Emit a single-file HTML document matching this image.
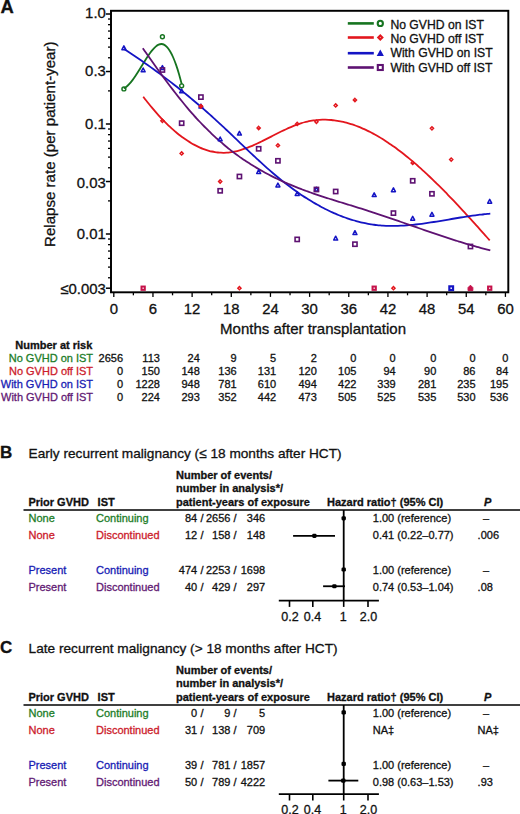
<!DOCTYPE html>
<html><head><meta charset="utf-8"><style>
html,body{margin:0;padding:0;background:#fff;width:520px;height:814px;overflow:hidden;}
body{position:relative;font-family:"Liberation Sans", sans-serif;}
</style></head><body>
<svg width="520" height="814" viewBox="0 0 520 814" style="position:absolute;left:0;top:0" font-family='"Liberation Sans", sans-serif'>
<text x="0.60" y="12.90" font-size="18.4" font-weight="700" fill="#111" stroke="#111" stroke-width="0.3">A</text>
<rect x="111.0" y="10.8" width="397.30" height="281.50" fill="none" stroke="#000" stroke-width="1.95"/>
<line x1="105.90" y1="14.00" x2="111.00" y2="14.00" stroke="#000" stroke-width="1.5" stroke-linecap="butt"/>
<text x="105.80" y="17.90" font-size="14.9" text-anchor="end" fill="#111" stroke="#111" stroke-width="0.3">1.0</text>
<line x1="105.90" y1="71.52" x2="111.00" y2="71.52" stroke="#000" stroke-width="1.5" stroke-linecap="butt"/>
<text x="105.80" y="75.60" font-size="14.9" text-anchor="end" fill="#111" stroke="#111" stroke-width="0.3">0.3</text>
<line x1="105.90" y1="124.00" x2="111.00" y2="124.00" stroke="#000" stroke-width="1.5" stroke-linecap="butt"/>
<text x="105.80" y="128.70" font-size="14.9" text-anchor="end" fill="#111" stroke="#111" stroke-width="0.3">0.1</text>
<line x1="105.90" y1="181.52" x2="111.00" y2="181.52" stroke="#000" stroke-width="1.5" stroke-linecap="butt"/>
<text x="105.80" y="187.50" font-size="14.9" text-anchor="end" fill="#111" stroke="#111" stroke-width="0.3">0.03</text>
<line x1="105.90" y1="234.00" x2="111.00" y2="234.00" stroke="#000" stroke-width="1.5" stroke-linecap="butt"/>
<text x="105.80" y="239.30" font-size="14.9" text-anchor="end" fill="#111" stroke="#111" stroke-width="0.3">0.01</text>
<line x1="105.90" y1="288.20" x2="111.00" y2="288.20" stroke="#000" stroke-width="1.5" stroke-linecap="butt"/>
<text x="105.80" y="293.60" font-size="14.9" text-anchor="end" fill="#111" stroke="#111" stroke-width="0.3">≤0.003</text>
<line x1="108.00" y1="90.89" x2="111.00" y2="90.89" stroke="#000" stroke-width="1.3" stroke-linecap="butt"/>
<line x1="108.00" y1="57.77" x2="111.00" y2="57.77" stroke="#000" stroke-width="1.3" stroke-linecap="butt"/>
<line x1="108.00" y1="47.11" x2="111.00" y2="47.11" stroke="#000" stroke-width="1.3" stroke-linecap="butt"/>
<line x1="108.00" y1="38.40" x2="111.00" y2="38.40" stroke="#000" stroke-width="1.3" stroke-linecap="butt"/>
<line x1="108.00" y1="31.04" x2="111.00" y2="31.04" stroke="#000" stroke-width="1.3" stroke-linecap="butt"/>
<line x1="108.00" y1="24.66" x2="111.00" y2="24.66" stroke="#000" stroke-width="1.3" stroke-linecap="butt"/>
<line x1="108.00" y1="19.03" x2="111.00" y2="19.03" stroke="#000" stroke-width="1.3" stroke-linecap="butt"/>
<line x1="108.00" y1="200.89" x2="111.00" y2="200.89" stroke="#000" stroke-width="1.3" stroke-linecap="butt"/>
<line x1="108.00" y1="167.77" x2="111.00" y2="167.77" stroke="#000" stroke-width="1.3" stroke-linecap="butt"/>
<line x1="108.00" y1="157.11" x2="111.00" y2="157.11" stroke="#000" stroke-width="1.3" stroke-linecap="butt"/>
<line x1="108.00" y1="148.40" x2="111.00" y2="148.40" stroke="#000" stroke-width="1.3" stroke-linecap="butt"/>
<line x1="108.00" y1="141.04" x2="111.00" y2="141.04" stroke="#000" stroke-width="1.3" stroke-linecap="butt"/>
<line x1="108.00" y1="134.66" x2="111.00" y2="134.66" stroke="#000" stroke-width="1.3" stroke-linecap="butt"/>
<line x1="108.00" y1="129.03" x2="111.00" y2="129.03" stroke="#000" stroke-width="1.3" stroke-linecap="butt"/>
<line x1="108.00" y1="277.77" x2="111.00" y2="277.77" stroke="#000" stroke-width="1.3" stroke-linecap="butt"/>
<line x1="108.00" y1="267.11" x2="111.00" y2="267.11" stroke="#000" stroke-width="1.3" stroke-linecap="butt"/>
<line x1="108.00" y1="258.40" x2="111.00" y2="258.40" stroke="#000" stroke-width="1.3" stroke-linecap="butt"/>
<line x1="108.00" y1="251.04" x2="111.00" y2="251.04" stroke="#000" stroke-width="1.3" stroke-linecap="butt"/>
<line x1="108.00" y1="244.66" x2="111.00" y2="244.66" stroke="#000" stroke-width="1.3" stroke-linecap="butt"/>
<line x1="108.00" y1="239.03" x2="111.00" y2="239.03" stroke="#000" stroke-width="1.3" stroke-linecap="butt"/>
<line x1="113.80" y1="292.30" x2="113.80" y2="296.90" stroke="#000" stroke-width="1.3" stroke-linecap="butt"/>
<line x1="133.38" y1="292.30" x2="133.38" y2="295.30" stroke="#000" stroke-width="1.3" stroke-linecap="butt"/>
<line x1="152.96" y1="292.30" x2="152.96" y2="296.90" stroke="#000" stroke-width="1.3" stroke-linecap="butt"/>
<line x1="172.54" y1="292.30" x2="172.54" y2="295.30" stroke="#000" stroke-width="1.3" stroke-linecap="butt"/>
<line x1="192.12" y1="292.30" x2="192.12" y2="296.90" stroke="#000" stroke-width="1.3" stroke-linecap="butt"/>
<line x1="211.70" y1="292.30" x2="211.70" y2="295.30" stroke="#000" stroke-width="1.3" stroke-linecap="butt"/>
<line x1="231.29" y1="292.30" x2="231.29" y2="296.90" stroke="#000" stroke-width="1.3" stroke-linecap="butt"/>
<line x1="250.87" y1="292.30" x2="250.87" y2="295.30" stroke="#000" stroke-width="1.3" stroke-linecap="butt"/>
<line x1="270.45" y1="292.30" x2="270.45" y2="296.90" stroke="#000" stroke-width="1.3" stroke-linecap="butt"/>
<line x1="290.03" y1="292.30" x2="290.03" y2="295.30" stroke="#000" stroke-width="1.3" stroke-linecap="butt"/>
<line x1="309.61" y1="292.30" x2="309.61" y2="296.90" stroke="#000" stroke-width="1.3" stroke-linecap="butt"/>
<line x1="329.19" y1="292.30" x2="329.19" y2="295.30" stroke="#000" stroke-width="1.3" stroke-linecap="butt"/>
<line x1="348.77" y1="292.30" x2="348.77" y2="296.90" stroke="#000" stroke-width="1.3" stroke-linecap="butt"/>
<line x1="368.35" y1="292.30" x2="368.35" y2="295.30" stroke="#000" stroke-width="1.3" stroke-linecap="butt"/>
<line x1="387.93" y1="292.30" x2="387.93" y2="296.90" stroke="#000" stroke-width="1.3" stroke-linecap="butt"/>
<line x1="407.52" y1="292.30" x2="407.52" y2="295.30" stroke="#000" stroke-width="1.3" stroke-linecap="butt"/>
<line x1="427.10" y1="292.30" x2="427.10" y2="296.90" stroke="#000" stroke-width="1.3" stroke-linecap="butt"/>
<line x1="446.68" y1="292.30" x2="446.68" y2="295.30" stroke="#000" stroke-width="1.3" stroke-linecap="butt"/>
<line x1="466.26" y1="292.30" x2="466.26" y2="296.90" stroke="#000" stroke-width="1.3" stroke-linecap="butt"/>
<line x1="485.84" y1="292.30" x2="485.84" y2="295.30" stroke="#000" stroke-width="1.3" stroke-linecap="butt"/>
<line x1="505.42" y1="292.30" x2="505.42" y2="296.90" stroke="#000" stroke-width="1.3" stroke-linecap="butt"/>
<text x="113.80" y="313.80" font-size="14.9" text-anchor="middle" fill="#111" stroke="#111" stroke-width="0.3">0</text>
<text x="152.96" y="313.80" font-size="14.9" text-anchor="middle" fill="#111" stroke="#111" stroke-width="0.3">6</text>
<text x="192.12" y="313.80" font-size="14.9" text-anchor="middle" fill="#111" stroke="#111" stroke-width="0.3">12</text>
<text x="231.29" y="313.80" font-size="14.9" text-anchor="middle" fill="#111" stroke="#111" stroke-width="0.3">18</text>
<text x="270.45" y="313.80" font-size="14.9" text-anchor="middle" fill="#111" stroke="#111" stroke-width="0.3">24</text>
<text x="309.61" y="313.80" font-size="14.9" text-anchor="middle" fill="#111" stroke="#111" stroke-width="0.3">30</text>
<text x="348.77" y="313.80" font-size="14.9" text-anchor="middle" fill="#111" stroke="#111" stroke-width="0.3">36</text>
<text x="387.93" y="313.80" font-size="14.9" text-anchor="middle" fill="#111" stroke="#111" stroke-width="0.3">42</text>
<text x="427.10" y="313.80" font-size="14.9" text-anchor="middle" fill="#111" stroke="#111" stroke-width="0.3">48</text>
<text x="466.26" y="313.80" font-size="14.9" text-anchor="middle" fill="#111" stroke="#111" stroke-width="0.3">54</text>
<text x="505.42" y="313.80" font-size="14.9" text-anchor="middle" fill="#111" stroke="#111" stroke-width="0.3">60</text>
<text x="220.10" y="333.80" font-size="15" fill="#111" stroke="#111" stroke-width="0.3">Months after transplantation</text>
<text transform="translate(55.3,247.0) rotate(-90)" font-size="15.1" fill="#111" stroke="#111" stroke-width="0.3">Relapse rate (per patient-year)</text>
<path d="M123.80,88.41 C124.28,88.09 125.73,87.28 126.70,86.49 C127.67,85.70 128.63,84.73 129.60,83.66 C130.57,82.60 131.53,81.38 132.50,80.10 C133.47,78.83 134.43,77.42 135.40,75.99 C136.37,74.55 137.33,73.03 138.30,71.50 C139.27,69.97 140.23,68.37 141.20,66.80 C142.17,65.24 143.13,63.64 144.10,62.09 C145.07,60.55 146.03,59.00 147.00,57.54 C147.97,56.08 148.93,54.64 149.90,53.32 C150.87,52.00 151.83,50.73 152.80,49.61 C153.77,48.50 154.73,47.45 155.70,46.63 C156.67,45.80 157.63,45.09 158.60,44.65 C159.57,44.22 160.53,43.96 161.50,44.00 C162.47,44.04 163.43,44.34 164.40,44.90 C165.37,45.47 166.33,46.30 167.30,47.40 C168.27,48.51 169.23,49.87 170.20,51.51 C171.17,53.16 172.13,55.06 173.10,57.25 C174.07,59.43 175.03,61.89 176.00,64.62 C176.97,67.36 177.93,70.36 178.90,73.65 C179.87,76.94 181.32,82.56 181.80,84.34" fill="none" stroke="#167420" stroke-width="1.8" stroke-linejoin="round"/>
<path d="M143.20,96.68 C143.70,97.32 145.19,99.28 146.19,100.54 C147.18,101.81 148.18,103.06 149.17,104.29 C150.17,105.52 151.17,106.72 152.16,107.91 C153.16,109.10 154.15,110.26 155.15,111.41 C156.14,112.55 157.14,113.68 158.14,114.78 C159.13,115.88 160.13,116.96 161.12,118.02 C162.12,119.08 163.11,120.12 164.11,121.14 C165.11,122.15 166.10,123.15 167.10,124.12 C168.09,125.09 169.09,126.04 170.08,126.96 C171.08,127.89 172.07,128.79 173.07,129.67 C174.07,130.55 175.06,131.41 176.06,132.24 C177.05,133.08 178.05,133.89 179.04,134.67 C180.04,135.46 181.04,136.22 182.03,136.96 C183.03,137.70 184.02,138.41 185.02,139.10 C186.01,139.79 187.01,140.46 188.01,141.10 C189.00,141.74 190.00,142.35 190.99,142.94 C191.99,143.53 192.98,144.10 193.98,144.64 C194.98,145.18 195.97,145.69 196.97,146.18 C197.96,146.67 198.96,147.13 199.95,147.56 C200.95,148.00 201.95,148.41 202.94,148.79 C203.94,149.17 204.93,149.53 205.93,149.86 C206.92,150.19 207.92,150.49 208.92,150.76 C209.91,151.04 210.91,151.29 211.90,151.50 C212.90,151.72 213.89,151.92 214.89,152.08 C215.89,152.24 216.88,152.38 217.88,152.49 C218.87,152.59 219.87,152.67 220.86,152.72 C221.86,152.77 222.86,152.80 223.85,152.79 C224.85,152.78 225.84,152.74 226.84,152.68 C227.83,152.61 228.83,152.52 229.82,152.39 C230.82,152.27 231.82,152.12 232.81,151.94 C233.81,151.77 234.80,151.56 235.80,151.33 C236.79,151.11 237.79,150.86 238.79,150.59 C239.78,150.31 240.78,150.02 241.77,149.70 C242.77,149.39 243.76,149.06 244.76,148.71 C245.76,148.35 246.75,147.98 247.75,147.60 C248.74,147.21 249.74,146.81 250.73,146.40 C251.73,145.98 252.73,145.55 253.72,145.11 C254.72,144.67 255.71,144.22 256.71,143.76 C257.70,143.30 258.70,142.83 259.70,142.35 C260.69,141.87 261.69,141.38 262.68,140.89 C263.68,140.39 264.67,139.89 265.67,139.39 C266.67,138.89 267.66,138.38 268.66,137.87 C269.65,137.37 270.65,136.85 271.64,136.35 C272.64,135.84 273.64,135.32 274.63,134.82 C275.63,134.31 276.62,133.80 277.62,133.30 C278.61,132.80 279.61,132.30 280.61,131.81 C281.60,131.32 282.60,130.84 283.59,130.36 C284.59,129.89 285.58,129.42 286.58,128.96 C287.58,128.50 288.57,128.05 289.57,127.62 C290.56,127.18 291.56,126.76 292.55,126.35 C293.55,125.94 294.54,125.54 295.54,125.17 C296.54,124.79 297.53,124.42 298.53,124.08 C299.52,123.74 300.52,123.41 301.51,123.10 C302.51,122.80 303.51,122.51 304.50,122.25 C305.50,121.98 306.49,121.74 307.49,121.52 C308.48,121.30 309.48,121.10 310.48,120.91 C311.47,120.73 312.47,120.57 313.46,120.43 C314.46,120.29 315.45,120.17 316.45,120.07 C317.45,119.97 318.44,119.89 319.44,119.83 C320.43,119.77 321.43,119.73 322.42,119.70 C323.42,119.68 324.42,119.68 325.41,119.69 C326.41,119.71 327.40,119.74 328.40,119.80 C329.39,119.85 330.39,119.92 331.39,120.01 C332.38,120.10 333.38,120.21 334.37,120.34 C335.37,120.46 336.36,120.61 337.36,120.77 C338.36,120.93 339.35,121.11 340.35,121.31 C341.34,121.50 342.34,121.72 343.33,121.95 C344.33,122.18 345.32,122.42 346.32,122.69 C347.32,122.95 348.31,123.23 349.31,123.53 C350.30,123.83 351.30,124.14 352.29,124.47 C353.29,124.80 354.29,125.15 355.28,125.51 C356.28,125.87 357.27,126.25 358.27,126.64 C359.26,127.03 360.26,127.44 361.26,127.86 C362.25,128.28 363.25,128.72 364.24,129.17 C365.24,129.63 366.23,130.09 367.23,130.57 C368.23,131.06 369.22,131.55 370.22,132.06 C371.21,132.57 372.21,133.10 373.20,133.63 C374.20,134.17 375.20,134.72 376.19,135.29 C377.19,135.85 378.18,136.43 379.18,137.02 C380.17,137.61 381.17,138.22 382.17,138.84 C383.16,139.45 384.16,140.08 385.15,140.73 C386.15,141.37 387.14,142.02 388.14,142.69 C389.14,143.36 390.13,144.04 391.13,144.73 C392.12,145.42 393.12,146.12 394.11,146.84 C395.11,147.55 396.11,148.28 397.10,149.02 C398.10,149.76 399.09,150.50 400.09,151.26 C401.08,152.02 402.08,152.79 403.07,153.57 C404.07,154.36 405.07,155.15 406.06,155.95 C407.06,156.75 408.05,157.56 409.05,158.38 C410.04,159.21 411.04,160.04 412.04,160.88 C413.03,161.72 414.03,162.57 415.02,163.43 C416.02,164.29 417.01,165.16 418.01,166.04 C419.01,166.92 420.00,167.81 421.00,168.70 C421.99,169.60 422.99,170.50 423.98,171.42 C424.98,172.33 425.98,173.25 426.97,174.18 C427.97,175.11 428.96,176.05 429.96,176.99 C430.95,177.94 431.95,178.89 432.95,179.85 C433.94,180.81 434.94,181.78 435.93,182.76 C436.93,183.73 437.92,184.71 438.92,185.70 C439.92,186.69 440.91,187.68 441.91,188.69 C442.90,189.69 443.90,190.69 444.89,191.71 C445.89,192.72 446.89,193.74 447.88,194.77 C448.88,195.79 449.87,196.83 450.87,197.86 C451.86,198.90 452.86,199.94 453.86,200.99 C454.85,202.04 455.85,203.09 456.84,204.15 C457.84,205.21 458.83,206.27 459.83,207.34 C460.83,208.40 461.82,209.47 462.82,210.55 C463.81,211.63 464.81,212.71 465.80,213.79 C466.80,214.87 467.79,215.96 468.79,217.05 C469.79,218.14 470.78,219.24 471.78,220.33 C472.77,221.43 473.77,222.53 474.76,223.64 C475.76,224.74 476.76,225.85 477.75,226.96 C478.75,228.07 479.74,229.18 480.74,230.29 C481.73,231.40 482.73,232.52 483.73,233.64 C484.72,234.76 485.72,235.88 486.71,237.00 C487.71,238.12 489.20,239.81 489.70,240.37" fill="none" stroke="#e3161d" stroke-width="1.8" stroke-linejoin="round"/>
<path d="M123.80,48.83 C124.30,49.15 125.79,50.12 126.78,50.78 C127.77,51.43 128.77,52.09 129.76,52.75 C130.75,53.41 131.75,54.07 132.74,54.73 C133.73,55.40 134.73,56.07 135.72,56.75 C136.71,57.42 137.71,58.10 138.70,58.78 C139.69,59.46 140.68,60.14 141.68,60.83 C142.67,61.52 143.66,62.21 144.66,62.91 C145.65,63.61 146.64,64.31 147.64,65.01 C148.63,65.71 149.62,66.42 150.62,67.13 C151.61,67.84 152.60,68.56 153.60,69.28 C154.59,70.00 155.58,70.72 156.58,71.45 C157.57,72.17 158.56,72.91 159.56,73.64 C160.55,74.38 161.54,75.11 162.54,75.86 C163.53,76.60 164.52,77.35 165.52,78.10 C166.51,78.85 167.50,79.61 168.50,80.37 C169.49,81.13 170.48,81.89 171.47,82.66 C172.47,83.43 173.46,84.20 174.45,84.98 C175.45,85.76 176.44,86.54 177.43,87.32 C178.43,88.11 179.42,88.90 180.41,89.69 C181.41,90.49 182.40,91.29 183.39,92.09 C184.39,92.89 185.38,93.70 186.37,94.51 C187.37,95.33 188.36,96.14 189.35,96.97 C190.35,97.79 191.34,98.61 192.33,99.44 C193.33,100.27 194.32,101.11 195.31,101.95 C196.31,102.79 197.30,103.64 198.29,104.49 C199.29,105.34 200.28,106.19 201.27,107.05 C202.26,107.91 203.26,108.77 204.25,109.64 C205.24,110.51 206.24,111.38 207.23,112.26 C208.22,113.14 209.22,114.03 210.21,114.91 C211.20,115.80 212.20,116.70 213.19,117.59 C214.18,118.49 215.18,119.40 216.17,120.31 C217.16,121.21 218.16,122.13 219.15,123.05 C220.14,123.97 221.14,124.89 222.13,125.82 C223.12,126.75 224.12,127.68 225.11,128.61 C226.10,129.55 227.10,130.49 228.09,131.43 C229.08,132.37 230.08,133.31 231.07,134.26 C232.06,135.21 233.05,136.15 234.05,137.10 C235.04,138.05 236.03,139.00 237.03,139.95 C238.02,140.90 239.01,141.85 240.01,142.80 C241.00,143.75 241.99,144.70 242.99,145.65 C243.98,146.60 244.97,147.54 245.97,148.49 C246.96,149.44 247.95,150.38 248.95,151.32 C249.94,152.26 250.93,153.20 251.93,154.13 C252.92,155.07 253.91,156.00 254.91,156.93 C255.90,157.85 256.89,158.78 257.89,159.69 C258.88,160.61 259.87,161.52 260.87,162.43 C261.86,163.34 262.85,164.24 263.84,165.14 C264.84,166.03 265.83,166.92 266.82,167.80 C267.82,168.68 268.81,169.56 269.80,170.42 C270.80,171.29 271.79,172.15 272.78,173.00 C273.78,173.85 274.77,174.69 275.76,175.52 C276.76,176.35 277.75,177.17 278.74,177.99 C279.74,178.80 280.73,179.60 281.72,180.40 C282.72,181.19 283.71,181.98 284.70,182.75 C285.70,183.53 286.69,184.30 287.68,185.05 C288.68,185.81 289.67,186.56 290.66,187.29 C291.66,188.03 292.65,188.76 293.64,189.48 C294.63,190.20 295.63,190.91 296.62,191.60 C297.61,192.30 298.61,192.99 299.60,193.67 C300.59,194.35 301.59,195.02 302.58,195.68 C303.57,196.34 304.57,196.99 305.56,197.63 C306.55,198.26 307.55,198.89 308.54,199.51 C309.53,200.13 310.53,200.74 311.52,201.34 C312.51,201.94 313.51,202.53 314.50,203.10 C315.49,203.68 316.49,204.25 317.48,204.81 C318.47,205.37 319.47,205.91 320.46,206.45 C321.45,206.99 322.44,207.51 323.44,208.03 C324.43,208.54 325.42,209.05 326.42,209.54 C327.41,210.04 328.40,210.52 329.40,210.99 C330.39,211.47 331.38,211.93 332.38,212.38 C333.37,212.83 334.36,213.27 335.36,213.70 C336.35,214.13 337.34,214.55 338.34,214.96 C339.33,215.37 340.32,215.76 341.32,216.15 C342.31,216.53 343.30,216.91 344.30,217.27 C345.29,217.64 346.28,217.99 347.28,218.33 C348.27,218.67 349.26,219.00 350.26,219.32 C351.25,219.64 352.24,219.95 353.23,220.24 C354.23,220.54 355.22,220.82 356.21,221.10 C357.21,221.37 358.20,221.63 359.19,221.88 C360.19,222.13 361.18,222.37 362.17,222.59 C363.17,222.82 364.16,223.04 365.15,223.24 C366.15,223.44 367.14,223.63 368.13,223.81 C369.13,223.99 370.12,224.16 371.11,224.32 C372.11,224.47 373.10,224.62 374.09,224.75 C375.09,224.88 376.08,225.00 377.07,225.11 C378.07,225.22 379.06,225.31 380.05,225.40 C381.05,225.48 382.04,225.56 383.03,225.62 C384.02,225.69 385.02,225.74 386.01,225.78 C387.00,225.82 388.00,225.86 388.99,225.88 C389.98,225.90 390.98,225.92 391.97,225.92 C392.96,225.92 393.96,225.92 394.95,225.91 C395.94,225.89 396.94,225.87 397.93,225.84 C398.92,225.81 399.92,225.77 400.91,225.72 C401.90,225.68 402.90,225.62 403.89,225.56 C404.88,225.50 405.88,225.43 406.87,225.35 C407.86,225.28 408.86,225.19 409.85,225.11 C410.84,225.02 411.84,224.92 412.83,224.82 C413.82,224.72 414.81,224.61 415.81,224.50 C416.80,224.39 417.79,224.27 418.79,224.15 C419.78,224.03 420.77,223.90 421.77,223.77 C422.76,223.64 423.75,223.50 424.75,223.36 C425.74,223.22 426.73,223.08 427.73,222.93 C428.72,222.79 429.71,222.64 430.71,222.48 C431.70,222.33 432.69,222.17 433.69,222.01 C434.68,221.86 435.67,221.70 436.67,221.53 C437.66,221.37 438.65,221.20 439.65,221.04 C440.64,220.87 441.63,220.70 442.63,220.54 C443.62,220.37 444.61,220.20 445.60,220.03 C446.60,219.86 447.59,219.69 448.58,219.52 C449.58,219.35 450.57,219.18 451.56,219.01 C452.56,218.84 453.55,218.67 454.54,218.50 C455.54,218.33 456.53,218.16 457.52,218.00 C458.52,217.83 459.51,217.66 460.50,217.50 C461.50,217.34 462.49,217.18 463.48,217.02 C464.48,216.86 465.47,216.71 466.46,216.55 C467.46,216.40 468.45,216.25 469.44,216.10 C470.44,215.96 471.43,215.81 472.42,215.67 C473.42,215.53 474.41,215.40 475.40,215.27 C476.39,215.14 477.39,215.01 478.38,214.89 C479.37,214.77 480.37,214.65 481.36,214.54 C482.35,214.42 483.35,214.32 484.34,214.22 C485.33,214.12 486.33,214.02 487.32,213.93 C488.31,213.85 489.80,213.73 490.30,213.69" fill="none" stroke="#1414c4" stroke-width="1.8" stroke-linejoin="round"/>
<path d="M142.80,48.28 C143.30,49.00 144.80,51.15 145.80,52.57 C146.79,54.00 147.79,55.42 148.79,56.84 C149.79,58.26 150.79,59.67 151.79,61.08 C152.79,62.49 153.78,63.89 154.78,65.29 C155.78,66.69 156.78,68.08 157.78,69.47 C158.78,70.85 159.78,72.23 160.77,73.60 C161.77,74.97 162.77,76.33 163.77,77.69 C164.77,79.04 165.77,80.39 166.77,81.73 C167.76,83.07 168.76,84.40 169.76,85.72 C170.76,87.04 171.76,88.35 172.76,89.65 C173.76,90.95 174.75,92.24 175.75,93.52 C176.75,94.80 177.75,96.07 178.75,97.32 C179.75,98.58 180.75,99.82 181.74,101.06 C182.74,102.29 183.74,103.51 184.74,104.72 C185.74,105.92 186.74,107.12 187.74,108.30 C188.73,109.48 189.73,110.64 190.73,111.80 C191.73,112.95 192.73,114.09 193.73,115.21 C194.73,116.33 195.72,117.44 196.72,118.53 C197.72,119.62 198.72,120.69 199.72,121.75 C200.72,122.82 201.72,123.86 202.71,124.89 C203.71,125.92 204.71,126.94 205.71,127.94 C206.71,128.94 207.71,129.93 208.71,130.90 C209.70,131.87 210.70,132.83 211.70,133.78 C212.70,134.72 213.70,135.65 214.70,136.57 C215.70,137.49 216.69,138.39 217.69,139.28 C218.69,140.17 219.69,141.05 220.69,141.91 C221.69,142.78 222.69,143.63 223.68,144.47 C224.68,145.30 225.68,146.13 226.68,146.94 C227.68,147.75 228.68,148.56 229.68,149.34 C230.67,150.13 231.67,150.91 232.67,151.67 C233.67,152.44 234.67,153.19 235.67,153.93 C236.66,154.67 237.66,155.40 238.66,156.12 C239.66,156.84 240.66,157.54 241.66,158.24 C242.66,158.93 243.65,159.62 244.65,160.29 C245.65,160.97 246.65,161.63 247.65,162.28 C248.65,162.94 249.65,163.58 250.64,164.21 C251.64,164.84 252.64,165.47 253.64,166.08 C254.64,166.69 255.64,167.29 256.64,167.89 C257.63,168.48 258.63,169.06 259.63,169.64 C260.63,170.21 261.63,170.78 262.63,171.34 C263.63,171.89 264.62,172.44 265.62,172.98 C266.62,173.52 267.62,174.05 268.62,174.57 C269.62,175.09 270.62,175.61 271.61,176.11 C272.61,176.62 273.61,177.12 274.61,177.61 C275.61,178.10 276.61,178.58 277.61,179.05 C278.60,179.53 279.60,180.00 280.60,180.46 C281.60,180.92 282.60,181.37 283.60,181.82 C284.60,182.27 285.59,182.71 286.59,183.14 C287.59,183.58 288.59,184.00 289.59,184.43 C290.59,184.85 291.59,185.26 292.58,185.67 C293.58,186.08 294.58,186.49 295.58,186.89 C296.58,187.29 297.58,187.68 298.58,188.07 C299.57,188.46 300.57,188.84 301.57,189.22 C302.57,189.60 303.57,189.97 304.57,190.34 C305.57,190.71 306.56,191.07 307.56,191.43 C308.56,191.80 309.56,192.15 310.56,192.50 C311.56,192.86 312.56,193.21 313.55,193.55 C314.55,193.90 315.55,194.24 316.55,194.58 C317.55,194.92 318.55,195.25 319.55,195.58 C320.54,195.92 321.54,196.25 322.54,196.57 C323.54,196.90 324.54,197.22 325.54,197.55 C326.54,197.87 327.53,198.19 328.53,198.51 C329.53,198.83 330.53,199.14 331.53,199.46 C332.53,199.77 333.53,200.08 334.52,200.40 C335.52,200.71 336.52,201.02 337.52,201.33 C338.52,201.64 339.52,201.94 340.52,202.25 C341.51,202.56 342.51,202.87 343.51,203.17 C344.51,203.48 345.51,203.79 346.51,204.09 C347.51,204.40 348.50,204.70 349.50,205.01 C350.50,205.32 351.50,205.62 352.50,205.93 C353.50,206.24 354.50,206.55 355.49,206.86 C356.49,207.17 357.49,207.48 358.49,207.79 C359.49,208.10 360.49,208.41 361.49,208.72 C362.48,209.04 363.48,209.35 364.48,209.67 C365.48,209.99 366.48,210.31 367.48,210.63 C368.48,210.95 369.47,211.27 370.47,211.60 C371.47,211.92 372.47,212.25 373.47,212.58 C374.47,212.90 375.47,213.23 376.46,213.57 C377.46,213.90 378.46,214.23 379.46,214.56 C380.46,214.90 381.46,215.23 382.46,215.57 C383.45,215.91 384.45,216.24 385.45,216.58 C386.45,216.92 387.45,217.26 388.45,217.60 C389.45,217.94 390.44,218.29 391.44,218.63 C392.44,218.97 393.44,219.31 394.44,219.66 C395.44,220.00 396.44,220.35 397.43,220.69 C398.43,221.04 399.43,221.38 400.43,221.73 C401.43,222.08 402.43,222.42 403.43,222.77 C404.42,223.12 405.42,223.46 406.42,223.81 C407.42,224.16 408.42,224.51 409.42,224.85 C410.41,225.20 411.41,225.55 412.41,225.90 C413.41,226.24 414.41,226.59 415.41,226.94 C416.41,227.29 417.40,227.63 418.40,227.98 C419.40,228.33 420.40,228.67 421.40,229.02 C422.40,229.36 423.40,229.71 424.39,230.05 C425.39,230.40 426.39,230.74 427.39,231.08 C428.39,231.43 429.39,231.77 430.39,232.11 C431.38,232.45 432.38,232.79 433.38,233.13 C434.38,233.47 435.38,233.81 436.38,234.15 C437.38,234.48 438.37,234.82 439.37,235.15 C440.37,235.49 441.37,235.82 442.37,236.15 C443.37,236.48 444.37,236.81 445.36,237.14 C446.36,237.47 447.36,237.80 448.36,238.12 C449.36,238.45 450.36,238.77 451.36,239.10 C452.35,239.42 453.35,239.74 454.35,240.06 C455.35,240.37 456.35,240.69 457.35,241.00 C458.35,241.32 459.34,241.63 460.34,241.94 C461.34,242.25 462.34,242.56 463.34,242.86 C464.34,243.17 465.34,243.47 466.33,243.77 C467.33,244.07 468.33,244.37 469.33,244.66 C470.33,244.96 471.33,245.25 472.33,245.54 C473.32,245.83 474.32,246.12 475.32,246.40 C476.32,246.68 477.32,246.96 478.32,247.24 C479.32,247.52 480.31,247.79 481.31,248.07 C482.31,248.34 483.31,248.61 484.31,248.87 C485.31,249.14 486.31,249.40 487.30,249.66 C488.30,249.92 489.80,250.29 490.30,250.42" fill="none" stroke="#5e1272" stroke-width="1.8" stroke-linejoin="round"/>
<path d="M123.90,45.90 L125.90,49.70 L121.90,49.70 Z" fill="none" stroke="#1414c4" stroke-width="1.5" stroke-linejoin="round"/>
<path d="M143.15,68.00 L145.15,71.80 L141.15,71.80 Z" fill="none" stroke="#1414c4" stroke-width="1.5" stroke-linejoin="round"/>
<path d="M162.41,65.60 L164.41,69.40 L160.41,69.40 Z" fill="none" stroke="#1414c4" stroke-width="1.5" stroke-linejoin="round"/>
<path d="M181.66,89.00 L183.66,92.80 L179.66,92.80 Z" fill="none" stroke="#1414c4" stroke-width="1.5" stroke-linejoin="round"/>
<path d="M200.91,104.20 L202.91,108.00 L198.91,108.00 Z" fill="none" stroke="#1414c4" stroke-width="1.5" stroke-linejoin="round"/>
<path d="M220.17,137.00 L222.17,140.80 L218.17,140.80 Z" fill="none" stroke="#1414c4" stroke-width="1.5" stroke-linejoin="round"/>
<path d="M239.42,131.30 L241.42,135.10 L237.42,135.10 Z" fill="none" stroke="#1414c4" stroke-width="1.5" stroke-linejoin="round"/>
<path d="M258.67,169.70 L260.67,173.50 L256.67,173.50 Z" fill="none" stroke="#1414c4" stroke-width="1.5" stroke-linejoin="round"/>
<path d="M277.92,183.10 L279.92,186.90 L275.92,186.90 Z" fill="none" stroke="#1414c4" stroke-width="1.5" stroke-linejoin="round"/>
<path d="M297.18,191.70 L299.18,195.50 L295.18,195.50 Z" fill="none" stroke="#1414c4" stroke-width="1.5" stroke-linejoin="round"/>
<path d="M316.43,187.20 L318.43,191.00 L314.43,191.00 Z" fill="none" stroke="#1414c4" stroke-width="1.5" stroke-linejoin="round"/>
<path d="M335.68,236.20 L337.68,240.00 L333.68,240.00 Z" fill="none" stroke="#1414c4" stroke-width="1.5" stroke-linejoin="round"/>
<path d="M354.94,230.70 L356.94,234.50 L352.94,234.50 Z" fill="none" stroke="#1414c4" stroke-width="1.5" stroke-linejoin="round"/>
<path d="M374.19,192.80 L376.19,196.60 L372.19,196.60 Z" fill="none" stroke="#1414c4" stroke-width="1.5" stroke-linejoin="round"/>
<path d="M393.44,187.90 L395.44,191.70 L391.44,191.70 Z" fill="none" stroke="#1414c4" stroke-width="1.5" stroke-linejoin="round"/>
<path d="M412.70,216.40 L414.70,220.20 L410.70,220.20 Z" fill="none" stroke="#1414c4" stroke-width="1.5" stroke-linejoin="round"/>
<path d="M431.95,212.40 L433.95,216.20 L429.95,216.20 Z" fill="none" stroke="#1414c4" stroke-width="1.5" stroke-linejoin="round"/>
<path d="M489.71,199.40 L491.71,203.20 L487.71,203.20 Z" fill="none" stroke="#1414c4" stroke-width="1.5" stroke-linejoin="round"/>
<rect x="160.31" y="67.90" width="4.20" height="4.20" fill="none" stroke="#5e1272" stroke-width="1.6"/>
<rect x="179.56" y="121.10" width="4.20" height="4.20" fill="none" stroke="#5e1272" stroke-width="1.6"/>
<rect x="198.81" y="95.00" width="4.20" height="4.20" fill="none" stroke="#5e1272" stroke-width="1.6"/>
<rect x="218.07" y="188.70" width="4.20" height="4.20" fill="none" stroke="#5e1272" stroke-width="1.6"/>
<rect x="237.32" y="174.40" width="4.20" height="4.20" fill="none" stroke="#5e1272" stroke-width="1.6"/>
<rect x="256.57" y="146.70" width="4.20" height="4.20" fill="none" stroke="#5e1272" stroke-width="1.6"/>
<rect x="275.82" y="158.70" width="4.20" height="4.20" fill="none" stroke="#5e1272" stroke-width="1.6"/>
<rect x="295.08" y="237.30" width="4.20" height="4.20" fill="none" stroke="#5e1272" stroke-width="1.6"/>
<rect x="314.33" y="187.40" width="4.20" height="4.20" fill="none" stroke="#5e1272" stroke-width="1.6"/>
<rect x="333.58" y="189.40" width="4.20" height="4.20" fill="none" stroke="#5e1272" stroke-width="1.6"/>
<rect x="352.84" y="242.10" width="4.20" height="4.20" fill="none" stroke="#5e1272" stroke-width="1.6"/>
<rect x="391.34" y="211.00" width="4.20" height="4.20" fill="none" stroke="#5e1272" stroke-width="1.6"/>
<rect x="410.60" y="178.70" width="4.20" height="4.20" fill="none" stroke="#5e1272" stroke-width="1.6"/>
<rect x="429.85" y="191.70" width="4.20" height="4.20" fill="none" stroke="#5e1272" stroke-width="1.6"/>
<rect x="468.35" y="244.40" width="4.20" height="4.20" fill="none" stroke="#5e1272" stroke-width="1.6"/>
<path d="M162.41,119.20 L164.01,120.80 L162.41,122.40 L160.81,120.80 Z" fill="none" stroke="#e3161d" stroke-width="1.45"/>
<path d="M181.66,151.80 L183.26,153.40 L181.66,155.00 L180.06,153.40 Z" fill="none" stroke="#e3161d" stroke-width="1.45"/>
<path d="M200.91,104.70 L202.51,106.30 L200.91,107.90 L199.31,106.30 Z" fill="none" stroke="#e3161d" stroke-width="1.45"/>
<path d="M220.17,179.90 L221.77,181.50 L220.17,183.10 L218.57,181.50 Z" fill="none" stroke="#e3161d" stroke-width="1.45"/>
<path d="M239.42,286.60 L241.02,288.20 L239.42,289.80 L237.82,288.20 Z" fill="none" stroke="#e3161d" stroke-width="1.45"/>
<path d="M258.67,126.40 L260.27,128.00 L258.67,129.60 L257.07,128.00 Z" fill="none" stroke="#e3161d" stroke-width="1.45"/>
<path d="M277.92,143.80 L279.52,145.40 L277.92,147.00 L276.32,145.40 Z" fill="none" stroke="#e3161d" stroke-width="1.45"/>
<path d="M297.18,122.30 L298.78,123.90 L297.18,125.50 L295.58,123.90 Z" fill="none" stroke="#e3161d" stroke-width="1.45"/>
<path d="M316.43,120.20 L318.03,121.80 L316.43,123.40 L314.83,121.80 Z" fill="none" stroke="#e3161d" stroke-width="1.45"/>
<path d="M335.68,103.80 L337.28,105.40 L335.68,107.00 L334.08,105.40 Z" fill="none" stroke="#e3161d" stroke-width="1.45"/>
<path d="M354.94,98.40 L356.54,100.00 L354.94,101.60 L353.34,100.00 Z" fill="none" stroke="#e3161d" stroke-width="1.45"/>
<path d="M393.44,286.60 L395.04,288.20 L393.44,289.80 L391.84,288.20 Z" fill="none" stroke="#e3161d" stroke-width="1.45"/>
<path d="M412.70,161.30 L414.30,162.90 L412.70,164.50 L411.10,162.90 Z" fill="none" stroke="#e3161d" stroke-width="1.45"/>
<path d="M431.95,126.70 L433.55,128.30 L431.95,129.90 L430.35,128.30 Z" fill="none" stroke="#e3161d" stroke-width="1.45"/>
<path d="M451.20,158.00 L452.80,159.60 L451.20,161.20 L449.60,159.60 Z" fill="none" stroke="#e3161d" stroke-width="1.45"/>
<circle cx="123.90" cy="88.90" r="1.95" fill="none" stroke="#167420" stroke-width="1.45"/>
<circle cx="162.41" cy="36.70" r="1.95" fill="none" stroke="#167420" stroke-width="1.45"/>
<circle cx="181.66" cy="85.80" r="1.95" fill="none" stroke="#167420" stroke-width="1.45"/>
<path d="M200.91,103.70 L203.51,106.30 L200.91,108.90 L198.31,106.30 Z" fill="#e3161d"/>
<rect x="141.50" y="286.55" width="3.30" height="3.30" fill="none" stroke="#c5124a" stroke-width="2.0"/>
<rect x="372.54" y="286.55" width="3.30" height="3.30" fill="none" stroke="#c5124a" stroke-width="2.0"/>
<rect x="488.06" y="286.55" width="3.30" height="3.30" fill="none" stroke="#c5124a" stroke-width="2.0"/>
<rect x="449.35" y="286.35" width="3.70" height="3.70" fill="none" stroke="#1414c4" stroke-width="2.2"/>
<path d="M468.05,290.60 L468.05,287.60 L470.45,285.20 L472.85,287.60 L472.85,290.60 Z" fill="#c5124a" stroke="#c5124a" stroke-width="1"/>
<line x1="347.80" y1="23.40" x2="373.80" y2="23.40" stroke="#167420" stroke-width="2.6" stroke-linecap="butt"/>
<circle cx="380.30" cy="23.40" r="2.6" fill="none" stroke="#167420" stroke-width="2.1"/>
<text x="390.40" y="28.60" font-size="12.2" fill="#111" stroke="#111" stroke-width="0.3">No GVHD on IST</text>
<line x1="347.80" y1="37.50" x2="373.80" y2="37.50" stroke="#e3161d" stroke-width="2.6" stroke-linecap="butt"/>
<path d="M380.30,35.45 L382.35,37.50 L380.30,39.55 L378.25,37.50 Z" fill="none" stroke="#e3161d" stroke-width="2.1"/>
<text x="390.40" y="42.90" font-size="12.2" fill="#111" stroke="#111" stroke-width="0.3">No GVHD off IST</text>
<line x1="347.80" y1="53.20" x2="373.80" y2="53.20" stroke="#1414c4" stroke-width="2.6" stroke-linecap="butt"/>
<path d="M380.30,49.60 L383.90,56.00 L376.70,56.00 Z" fill="#1414c4"/>
<text x="390.40" y="57.40" font-size="12.2" fill="#111" stroke="#111" stroke-width="0.3">With GVHD on IST</text>
<line x1="347.80" y1="67.50" x2="373.80" y2="67.50" stroke="#5e1272" stroke-width="2.6" stroke-linecap="butt"/>
<rect x="377.80" y="65.00" width="5.00" height="5.00" fill="none" stroke="#5e1272" stroke-width="2.1"/>
<text x="390.40" y="71.70" font-size="12.2" fill="#111" stroke="#111" stroke-width="0.3">With GVHD off IST</text>
<text x="92.30" y="348.50" font-size="11" font-weight="700" text-anchor="end" fill="#111" stroke="#111" stroke-width="0.3">Number at risk</text>
<text x="93.10" y="362.00" font-size="11" text-anchor="end" fill="#1c7d28" stroke="#1c7d28" stroke-width="0.3">No GVHD on IST</text>
<text x="123.10" y="362.00" font-size="11" text-anchor="end" fill="#111" stroke="#111" stroke-width="0.3">2656</text>
<text x="159.90" y="362.00" font-size="11" text-anchor="end" fill="#111" stroke="#111" stroke-width="0.3">113</text>
<text x="199.80" y="362.00" font-size="11" text-anchor="end" fill="#111" stroke="#111" stroke-width="0.3">24</text>
<text x="236.70" y="362.00" font-size="11" text-anchor="end" fill="#111" stroke="#111" stroke-width="0.3">9</text>
<text x="276.20" y="362.00" font-size="11" text-anchor="end" fill="#111" stroke="#111" stroke-width="0.3">5</text>
<text x="316.80" y="362.00" font-size="11" text-anchor="end" fill="#111" stroke="#111" stroke-width="0.3">2</text>
<text x="356.40" y="362.00" font-size="11" text-anchor="end" fill="#111" stroke="#111" stroke-width="0.3">0</text>
<text x="395.70" y="362.00" font-size="11" text-anchor="end" fill="#111" stroke="#111" stroke-width="0.3">0</text>
<text x="436.30" y="362.00" font-size="11" text-anchor="end" fill="#111" stroke="#111" stroke-width="0.3">0</text>
<text x="475.50" y="362.00" font-size="11" text-anchor="end" fill="#111" stroke="#111" stroke-width="0.3">0</text>
<text x="508.30" y="362.00" font-size="11" text-anchor="end" fill="#111" stroke="#111" stroke-width="0.3">0</text>
<text x="93.10" y="375.00" font-size="11" text-anchor="end" fill="#cc1c2c" stroke="#cc1c2c" stroke-width="0.3">No GVHD off IST</text>
<text x="123.10" y="375.00" font-size="11" text-anchor="end" fill="#111" stroke="#111" stroke-width="0.3">0</text>
<text x="159.90" y="375.00" font-size="11" text-anchor="end" fill="#111" stroke="#111" stroke-width="0.3">150</text>
<text x="199.80" y="375.00" font-size="11" text-anchor="end" fill="#111" stroke="#111" stroke-width="0.3">148</text>
<text x="236.70" y="375.00" font-size="11" text-anchor="end" fill="#111" stroke="#111" stroke-width="0.3">136</text>
<text x="276.20" y="375.00" font-size="11" text-anchor="end" fill="#111" stroke="#111" stroke-width="0.3">131</text>
<text x="316.80" y="375.00" font-size="11" text-anchor="end" fill="#111" stroke="#111" stroke-width="0.3">120</text>
<text x="356.40" y="375.00" font-size="11" text-anchor="end" fill="#111" stroke="#111" stroke-width="0.3">105</text>
<text x="395.70" y="375.00" font-size="11" text-anchor="end" fill="#111" stroke="#111" stroke-width="0.3">94</text>
<text x="436.30" y="375.00" font-size="11" text-anchor="end" fill="#111" stroke="#111" stroke-width="0.3">90</text>
<text x="475.50" y="375.00" font-size="11" text-anchor="end" fill="#111" stroke="#111" stroke-width="0.3">86</text>
<text x="508.30" y="375.00" font-size="11" text-anchor="end" fill="#111" stroke="#111" stroke-width="0.3">84</text>
<text x="93.10" y="388.10" font-size="11" text-anchor="end" fill="#181cb4" stroke="#181cb4" stroke-width="0.3">With GVHD on IST</text>
<text x="123.10" y="388.10" font-size="11" text-anchor="end" fill="#111" stroke="#111" stroke-width="0.3">0</text>
<text x="159.90" y="388.10" font-size="11" text-anchor="end" fill="#111" stroke="#111" stroke-width="0.3">1228</text>
<text x="199.80" y="388.10" font-size="11" text-anchor="end" fill="#111" stroke="#111" stroke-width="0.3">948</text>
<text x="236.70" y="388.10" font-size="11" text-anchor="end" fill="#111" stroke="#111" stroke-width="0.3">781</text>
<text x="276.20" y="388.10" font-size="11" text-anchor="end" fill="#111" stroke="#111" stroke-width="0.3">610</text>
<text x="316.80" y="388.10" font-size="11" text-anchor="end" fill="#111" stroke="#111" stroke-width="0.3">494</text>
<text x="356.40" y="388.10" font-size="11" text-anchor="end" fill="#111" stroke="#111" stroke-width="0.3">422</text>
<text x="395.70" y="388.10" font-size="11" text-anchor="end" fill="#111" stroke="#111" stroke-width="0.3">339</text>
<text x="436.30" y="388.10" font-size="11" text-anchor="end" fill="#111" stroke="#111" stroke-width="0.3">281</text>
<text x="475.50" y="388.10" font-size="11" text-anchor="end" fill="#111" stroke="#111" stroke-width="0.3">235</text>
<text x="508.30" y="388.10" font-size="11" text-anchor="end" fill="#111" stroke="#111" stroke-width="0.3">195</text>
<text x="93.10" y="401.00" font-size="11" text-anchor="end" fill="#621a74" stroke="#621a74" stroke-width="0.3">With GVHD off IST</text>
<text x="123.10" y="401.00" font-size="11" text-anchor="end" fill="#111" stroke="#111" stroke-width="0.3">0</text>
<text x="159.90" y="401.00" font-size="11" text-anchor="end" fill="#111" stroke="#111" stroke-width="0.3">224</text>
<text x="199.80" y="401.00" font-size="11" text-anchor="end" fill="#111" stroke="#111" stroke-width="0.3">293</text>
<text x="236.70" y="401.00" font-size="11" text-anchor="end" fill="#111" stroke="#111" stroke-width="0.3">352</text>
<text x="276.20" y="401.00" font-size="11" text-anchor="end" fill="#111" stroke="#111" stroke-width="0.3">442</text>
<text x="316.80" y="401.00" font-size="11" text-anchor="end" fill="#111" stroke="#111" stroke-width="0.3">473</text>
<text x="356.40" y="401.00" font-size="11" text-anchor="end" fill="#111" stroke="#111" stroke-width="0.3">505</text>
<text x="395.70" y="401.00" font-size="11" text-anchor="end" fill="#111" stroke="#111" stroke-width="0.3">525</text>
<text x="436.30" y="401.00" font-size="11" text-anchor="end" fill="#111" stroke="#111" stroke-width="0.3">535</text>
<text x="475.50" y="401.00" font-size="11" text-anchor="end" fill="#111" stroke="#111" stroke-width="0.3">530</text>
<text x="508.30" y="401.00" font-size="11" text-anchor="end" fill="#111" stroke="#111" stroke-width="0.3">536</text>
<text x="0.00" y="457.60" font-size="17" font-weight="700" fill="#111" stroke="#111" stroke-width="0.3">B</text>
<text x="28.60" y="458.40" font-size="13.65" fill="#111" stroke="#111" stroke-width="0.3">Early recurrent malignancy (≤ 18 months after HCT)</text>
<text x="28.40" y="505.60" font-size="11" font-weight="700" fill="#111" stroke="#111" stroke-width="0.3">Prior GVHD</text>
<text x="97.60" y="505.60" font-size="11" font-weight="700" fill="#111" stroke="#111" stroke-width="0.3">IST</text>
<text x="176.00" y="478.60" font-size="11" font-weight="700" fill="#111" stroke="#111" stroke-width="0.3">Number of events/</text>
<text x="176.00" y="492.10" font-size="11" font-weight="700" fill="#111" stroke="#111" stroke-width="0.3">number in analysis*/</text>
<text x="176.00" y="505.60" font-size="11" font-weight="700" fill="#111" stroke="#111" stroke-width="0.3">patient-years of exposure</text>
<text x="327.00" y="505.60" font-size="11" font-weight="700" fill="#111" stroke="#111" stroke-width="0.3">Hazard ratio† (95% CI)</text>
<text x="484.00" y="506.00" font-size="11" font-weight="700" font-style="italic" fill="#111" stroke="#111" stroke-width="0.3">P</text>
<line x1="23.50" y1="510.00" x2="520.00" y2="510.00" stroke="#000" stroke-width="1.5" stroke-linecap="butt"/>
<text x="28.50" y="522.30" font-size="11" fill="#1c7d28" stroke="#1c7d28" stroke-width="0.3">None</text>
<text x="96.00" y="522.30" font-size="11" fill="#1c7d28" stroke="#1c7d28" stroke-width="0.3">Continuing</text>
<text x="197.20" y="522.30" font-size="11" text-anchor="end" fill="#111" stroke="#111" stroke-width="0.3">84</text>
<text x="200.40" y="522.30" font-size="11" fill="#111" stroke="#111" stroke-width="0.3">/</text>
<text x="230.40" y="522.30" font-size="11" text-anchor="end" fill="#111" stroke="#111" stroke-width="0.3">2656</text>
<text x="233.40" y="522.30" font-size="11" fill="#111" stroke="#111" stroke-width="0.3">/</text>
<text x="265.20" y="522.30" font-size="11" text-anchor="end" fill="#111" stroke="#111" stroke-width="0.3">346</text>
<text x="372.80" y="522.30" font-size="11" fill="#111" stroke="#111" stroke-width="0.3">1.00 (reference)</text>
<text x="483.00" y="522.30" font-size="11" fill="#111" stroke="#111" stroke-width="0.3">–</text>
<text x="28.50" y="539.30" font-size="11" fill="#cc1c2c" stroke="#cc1c2c" stroke-width="0.3">None</text>
<text x="96.00" y="539.30" font-size="11" fill="#cc1c2c" stroke="#cc1c2c" stroke-width="0.3">Discontinued</text>
<text x="197.20" y="539.30" font-size="11" text-anchor="end" fill="#111" stroke="#111" stroke-width="0.3">12</text>
<text x="200.40" y="539.30" font-size="11" fill="#111" stroke="#111" stroke-width="0.3">/</text>
<text x="230.40" y="539.30" font-size="11" text-anchor="end" fill="#111" stroke="#111" stroke-width="0.3">158</text>
<text x="233.40" y="539.30" font-size="11" fill="#111" stroke="#111" stroke-width="0.3">/</text>
<text x="265.20" y="539.30" font-size="11" text-anchor="end" fill="#111" stroke="#111" stroke-width="0.3">148</text>
<text x="372.80" y="539.30" font-size="11" fill="#111" stroke="#111" stroke-width="0.3">0.41 (0.22–0.77)</text>
<text x="477.60" y="539.30" font-size="11" fill="#111" stroke="#111" stroke-width="0.3">.006</text>
<text x="28.50" y="573.80" font-size="11" fill="#181cb4" stroke="#181cb4" stroke-width="0.3">Present</text>
<text x="96.00" y="573.80" font-size="11" fill="#181cb4" stroke="#181cb4" stroke-width="0.3">Continuing</text>
<text x="197.20" y="573.80" font-size="11" text-anchor="end" fill="#111" stroke="#111" stroke-width="0.3">474</text>
<text x="200.40" y="573.80" font-size="11" fill="#111" stroke="#111" stroke-width="0.3">/</text>
<text x="230.40" y="573.80" font-size="11" text-anchor="end" fill="#111" stroke="#111" stroke-width="0.3">2253</text>
<text x="233.40" y="573.80" font-size="11" fill="#111" stroke="#111" stroke-width="0.3">/</text>
<text x="265.20" y="573.80" font-size="11" text-anchor="end" fill="#111" stroke="#111" stroke-width="0.3">1698</text>
<text x="372.80" y="573.80" font-size="11" fill="#111" stroke="#111" stroke-width="0.3">1.00 (reference)</text>
<text x="483.00" y="573.80" font-size="11" fill="#111" stroke="#111" stroke-width="0.3">–</text>
<text x="28.50" y="590.70" font-size="11" fill="#621a74" stroke="#621a74" stroke-width="0.3">Present</text>
<text x="96.00" y="590.70" font-size="11" fill="#621a74" stroke="#621a74" stroke-width="0.3">Discontinued</text>
<text x="197.20" y="590.70" font-size="11" text-anchor="end" fill="#111" stroke="#111" stroke-width="0.3">40</text>
<text x="200.40" y="590.70" font-size="11" fill="#111" stroke="#111" stroke-width="0.3">/</text>
<text x="230.40" y="590.70" font-size="11" text-anchor="end" fill="#111" stroke="#111" stroke-width="0.3">429</text>
<text x="233.40" y="590.70" font-size="11" fill="#111" stroke="#111" stroke-width="0.3">/</text>
<text x="265.20" y="590.70" font-size="11" text-anchor="end" fill="#111" stroke="#111" stroke-width="0.3">297</text>
<text x="372.80" y="590.70" font-size="11" fill="#111" stroke="#111" stroke-width="0.3">0.74 (0.53–1.04)</text>
<text x="477.60" y="590.70" font-size="11" fill="#111" stroke="#111" stroke-width="0.3">.08</text>
<line x1="343.70" y1="510.00" x2="343.70" y2="600.60" stroke="#000" stroke-width="1.8" stroke-linecap="butt"/>
<line x1="278.80" y1="600.60" x2="378.90" y2="600.60" stroke="#000" stroke-width="1.8" stroke-linecap="butt"/>
<line x1="289.50" y1="600.60" x2="289.50" y2="606.90" stroke="#000" stroke-width="1.6" stroke-linecap="butt"/>
<line x1="312.80" y1="600.60" x2="312.80" y2="606.90" stroke="#000" stroke-width="1.6" stroke-linecap="butt"/>
<line x1="343.70" y1="600.60" x2="343.70" y2="606.90" stroke="#000" stroke-width="1.6" stroke-linecap="butt"/>
<line x1="368.00" y1="600.60" x2="368.00" y2="606.90" stroke="#000" stroke-width="1.6" stroke-linecap="butt"/>
<text x="290.00" y="620.70" font-size="12.5" text-anchor="middle" fill="#111" stroke="#111" stroke-width="0.3">0.2</text>
<text x="312.40" y="620.70" font-size="12.5" text-anchor="middle" fill="#111" stroke="#111" stroke-width="0.3">0.4</text>
<text x="343.30" y="620.70" font-size="12.5" text-anchor="middle" fill="#111" stroke="#111" stroke-width="0.3">1</text>
<text x="368.50" y="620.70" font-size="12.5" text-anchor="middle" fill="#111" stroke="#111" stroke-width="0.3">2.0</text>
<rect x="341.50" y="516.20" width="4.4" height="4.2" rx="1.3" fill="#000"/>
<line x1="293.10" y1="535.80" x2="335.00" y2="535.80" stroke="#000" stroke-width="1.8" stroke-linecap="butt"/>
<rect x="312.20" y="533.70" width="4.4" height="4.2" rx="1.3" fill="#000"/>
<rect x="341.50" y="567.40" width="4.4" height="4.2" rx="1.3" fill="#000"/>
<line x1="323.10" y1="586.25" x2="345.00" y2="586.25" stroke="#000" stroke-width="1.8" stroke-linecap="butt"/>
<rect x="332.20" y="584.15" width="4.4" height="4.2" rx="1.3" fill="#000"/>
<text x="0.00" y="652.60" font-size="17" font-weight="700" fill="#111" stroke="#111" stroke-width="0.3">C</text>
<text x="28.60" y="653.40" font-size="13.65" fill="#111" stroke="#111" stroke-width="0.3">Late recurrent malignancy (&gt; 18 months after HCT)</text>
<text x="28.40" y="700.60" font-size="11" font-weight="700" fill="#111" stroke="#111" stroke-width="0.3">Prior GVHD</text>
<text x="97.60" y="700.60" font-size="11" font-weight="700" fill="#111" stroke="#111" stroke-width="0.3">IST</text>
<text x="176.00" y="673.60" font-size="11" font-weight="700" fill="#111" stroke="#111" stroke-width="0.3">Number of events/</text>
<text x="176.00" y="687.10" font-size="11" font-weight="700" fill="#111" stroke="#111" stroke-width="0.3">number in analysis*/</text>
<text x="176.00" y="700.60" font-size="11" font-weight="700" fill="#111" stroke="#111" stroke-width="0.3">patient-years of exposure</text>
<text x="327.00" y="700.60" font-size="11" font-weight="700" fill="#111" stroke="#111" stroke-width="0.3">Hazard ratio† (95% CI)</text>
<text x="484.00" y="701.00" font-size="11" font-weight="700" font-style="italic" fill="#111" stroke="#111" stroke-width="0.3">P</text>
<line x1="23.50" y1="705.00" x2="520.00" y2="705.00" stroke="#000" stroke-width="1.5" stroke-linecap="butt"/>
<text x="28.50" y="717.30" font-size="11" fill="#1c7d28" stroke="#1c7d28" stroke-width="0.3">None</text>
<text x="96.00" y="717.30" font-size="11" fill="#1c7d28" stroke="#1c7d28" stroke-width="0.3">Continuing</text>
<text x="197.20" y="717.30" font-size="11" text-anchor="end" fill="#111" stroke="#111" stroke-width="0.3">0</text>
<text x="200.40" y="717.30" font-size="11" fill="#111" stroke="#111" stroke-width="0.3">/</text>
<text x="230.40" y="717.30" font-size="11" text-anchor="end" fill="#111" stroke="#111" stroke-width="0.3">9</text>
<text x="233.40" y="717.30" font-size="11" fill="#111" stroke="#111" stroke-width="0.3">/</text>
<text x="265.20" y="717.30" font-size="11" text-anchor="end" fill="#111" stroke="#111" stroke-width="0.3">5</text>
<text x="372.80" y="717.30" font-size="11" fill="#111" stroke="#111" stroke-width="0.3">1.00 (reference)</text>
<text x="483.00" y="717.30" font-size="11" fill="#111" stroke="#111" stroke-width="0.3">–</text>
<text x="28.50" y="734.30" font-size="11" fill="#cc1c2c" stroke="#cc1c2c" stroke-width="0.3">None</text>
<text x="96.00" y="734.30" font-size="11" fill="#cc1c2c" stroke="#cc1c2c" stroke-width="0.3">Discontinued</text>
<text x="197.20" y="734.30" font-size="11" text-anchor="end" fill="#111" stroke="#111" stroke-width="0.3">31</text>
<text x="200.40" y="734.30" font-size="11" fill="#111" stroke="#111" stroke-width="0.3">/</text>
<text x="230.40" y="734.30" font-size="11" text-anchor="end" fill="#111" stroke="#111" stroke-width="0.3">138</text>
<text x="233.40" y="734.30" font-size="11" fill="#111" stroke="#111" stroke-width="0.3">/</text>
<text x="265.20" y="734.30" font-size="11" text-anchor="end" fill="#111" stroke="#111" stroke-width="0.3">709</text>
<text x="372.80" y="734.30" font-size="11" fill="#111" stroke="#111" stroke-width="0.3">NA‡</text>
<text x="477.60" y="734.30" font-size="11" fill="#111" stroke="#111" stroke-width="0.3">NA‡</text>
<text x="28.50" y="768.80" font-size="11" fill="#181cb4" stroke="#181cb4" stroke-width="0.3">Present</text>
<text x="96.00" y="768.80" font-size="11" fill="#181cb4" stroke="#181cb4" stroke-width="0.3">Continuing</text>
<text x="197.20" y="768.80" font-size="11" text-anchor="end" fill="#111" stroke="#111" stroke-width="0.3">39</text>
<text x="200.40" y="768.80" font-size="11" fill="#111" stroke="#111" stroke-width="0.3">/</text>
<text x="230.40" y="768.80" font-size="11" text-anchor="end" fill="#111" stroke="#111" stroke-width="0.3">781</text>
<text x="233.40" y="768.80" font-size="11" fill="#111" stroke="#111" stroke-width="0.3">/</text>
<text x="265.20" y="768.80" font-size="11" text-anchor="end" fill="#111" stroke="#111" stroke-width="0.3">1857</text>
<text x="372.80" y="768.80" font-size="11" fill="#111" stroke="#111" stroke-width="0.3">1.00 (reference)</text>
<text x="483.00" y="768.80" font-size="11" fill="#111" stroke="#111" stroke-width="0.3">–</text>
<text x="28.50" y="785.70" font-size="11" fill="#621a74" stroke="#621a74" stroke-width="0.3">Present</text>
<text x="96.00" y="785.70" font-size="11" fill="#621a74" stroke="#621a74" stroke-width="0.3">Discontinued</text>
<text x="197.20" y="785.70" font-size="11" text-anchor="end" fill="#111" stroke="#111" stroke-width="0.3">50</text>
<text x="200.40" y="785.70" font-size="11" fill="#111" stroke="#111" stroke-width="0.3">/</text>
<text x="230.40" y="785.70" font-size="11" text-anchor="end" fill="#111" stroke="#111" stroke-width="0.3">789</text>
<text x="233.40" y="785.70" font-size="11" fill="#111" stroke="#111" stroke-width="0.3">/</text>
<text x="265.20" y="785.70" font-size="11" text-anchor="end" fill="#111" stroke="#111" stroke-width="0.3">4222</text>
<text x="372.80" y="785.70" font-size="11" fill="#111" stroke="#111" stroke-width="0.3">0.98 (0.63–1.53)</text>
<text x="477.60" y="785.70" font-size="11" fill="#111" stroke="#111" stroke-width="0.3">.93</text>
<line x1="343.70" y1="705.00" x2="343.70" y2="794.20" stroke="#000" stroke-width="1.8" stroke-linecap="butt"/>
<line x1="278.80" y1="794.20" x2="378.90" y2="794.20" stroke="#000" stroke-width="1.8" stroke-linecap="butt"/>
<line x1="289.50" y1="794.20" x2="289.50" y2="800.50" stroke="#000" stroke-width="1.6" stroke-linecap="butt"/>
<line x1="312.80" y1="794.20" x2="312.80" y2="800.50" stroke="#000" stroke-width="1.6" stroke-linecap="butt"/>
<line x1="343.70" y1="794.20" x2="343.70" y2="800.50" stroke="#000" stroke-width="1.6" stroke-linecap="butt"/>
<line x1="368.00" y1="794.20" x2="368.00" y2="800.50" stroke="#000" stroke-width="1.6" stroke-linecap="butt"/>
<text x="290.00" y="814.30" font-size="12.5" text-anchor="middle" fill="#111" stroke="#111" stroke-width="0.3">0.2</text>
<text x="312.40" y="814.30" font-size="12.5" text-anchor="middle" fill="#111" stroke="#111" stroke-width="0.3">0.4</text>
<text x="343.30" y="814.30" font-size="12.5" text-anchor="middle" fill="#111" stroke="#111" stroke-width="0.3">1</text>
<text x="368.50" y="814.30" font-size="12.5" text-anchor="middle" fill="#111" stroke="#111" stroke-width="0.3">2.0</text>
<rect x="341.50" y="710.30" width="4.4" height="4.2" rx="1.3" fill="#000"/>
<rect x="341.50" y="761.80" width="4.4" height="4.2" rx="1.3" fill="#000"/>
<line x1="328.40" y1="780.60" x2="358.30" y2="780.60" stroke="#000" stroke-width="1.8" stroke-linecap="butt"/>
<rect x="341.10" y="778.50" width="4.4" height="4.2" rx="1.3" fill="#000"/>
</svg>
</body></html>
